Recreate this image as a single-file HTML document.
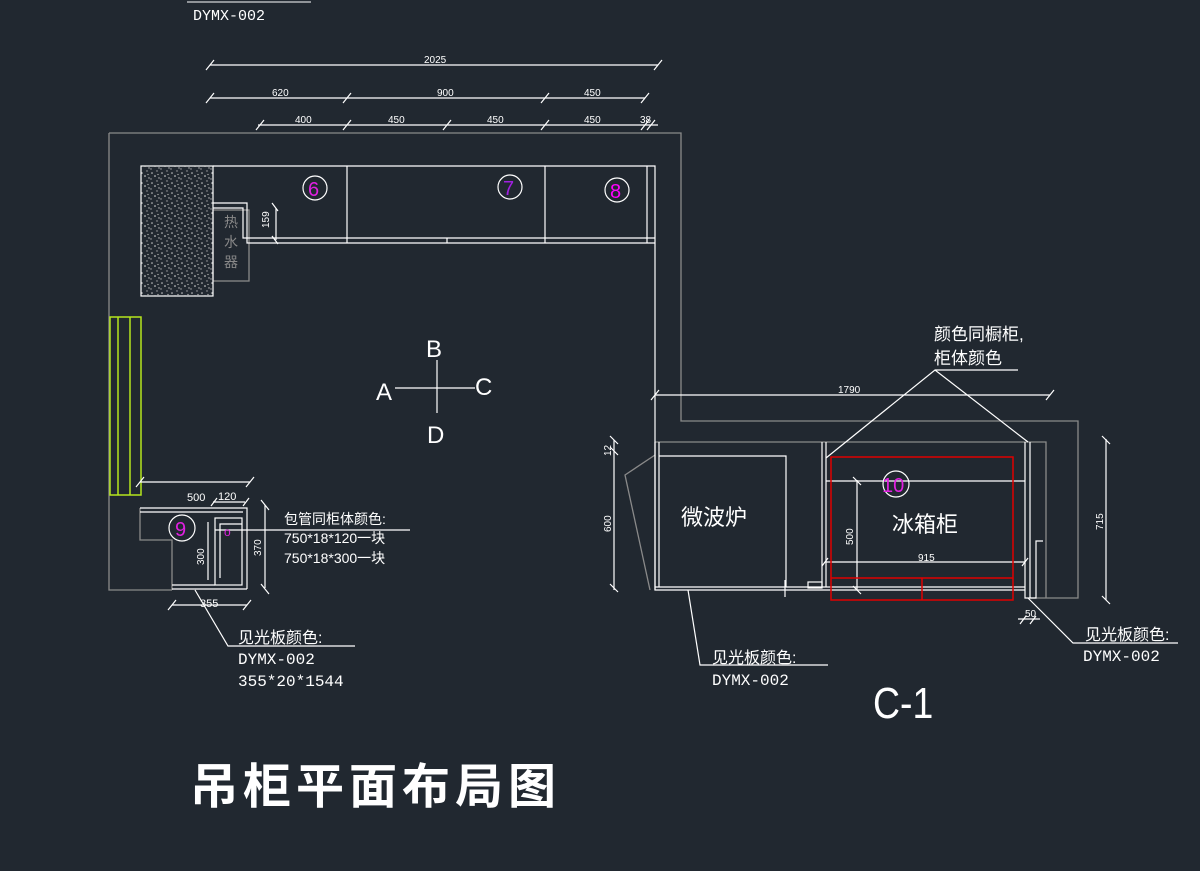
<!DOCTYPE html>
<html><head><meta charset="utf-8"><style>
html,body{margin:0;padding:0;background:#212830;}
svg{display:block}
text{font-family:"Liberation Sans","Noto Sans CJK SC",sans-serif;fill:#fff}
.m{font-family:"Liberation Mono","Noto Sans CJK SC",monospace}
</style></head><body>
<svg width="1200" height="871" viewBox="0 0 1200 871" xmlns="http://www.w3.org/2000/svg">
<defs>
<pattern id="h" width="10" height="10" patternUnits="userSpaceOnUse">
<circle cx="2" cy="3" r="0.8" fill="#ccc"/><circle cx="7" cy="1" r="0.7" fill="#aaa"/><circle cx="5" cy="6" r="0.8" fill="#ddd"/><circle cx="9" cy="8" r="0.7" fill="#bbb"/><circle cx="1" cy="9" r="0.7" fill="#aaa"/><circle cx="8" cy="4.5" r="0.6" fill="#ccc"/>
</pattern>
</defs>
<rect width="1200" height="871" fill="#212830"/>
<line x1="187" y1="2" x2="311" y2="2" stroke="#fff" stroke-width="1"/>
<text class="m" x="193" y="20" font-size="15">DYMX-002</text>

<g stroke="#fff" stroke-width="1.2" fill="none">
<line x1="210" y1="65" x2="658" y2="65"/>
<path d="M206 70l8-10M654 70l8-10"/>
<line x1="210" y1="98" x2="645" y2="98"/>
<path d="M206 103l8-10M343 103l8-10M541 103l8-10M641 103l8-10"/>
<line x1="258" y1="125" x2="658" y2="125"/>
<path d="M256 130l8-10M343 130l8-10M443 130l8-10M541 130l8-10M641 130l8-10M647 130l8-10"/>
</g>
<g font-size="10">
<text x="424" y="63">2025</text>
<text x="272" y="96">620</text><text x="437" y="96">900</text><text x="584" y="96">450</text>
<text x="295" y="123">400</text><text x="388" y="123">450</text><text x="487" y="123">450</text><text x="584" y="123">450</text><text x="640" y="123">38</text>
</g>

<g stroke="#8a8a8a" stroke-width="1.3" fill="none">
<path d="M109 133H681V421H1078V598H1030"/>
<path d="M109 133V590H172"/>
<path d="M140 508V540H172V590"/>
<rect x="213" y="210" width="36" height="71"/>
<path d="M655 442H1046V598"/>
<path d="M655 455L625 475L650 590"/>
</g>
<text x="224" y="227" font-size="14" style="fill:#888">热</text>
<text x="224" y="247" font-size="14" style="fill:#888">水</text>
<text x="224" y="267" font-size="14" style="fill:#888">器</text>

<rect x="141" y="166" width="72" height="130" fill="url(#h)" stroke="#fff" stroke-width="1.2"/>
<g stroke="#b5e61d" stroke-width="1.5" fill="none">
<rect x="110" y="317" width="31" height="178"/>
<line x1="118" y1="317" x2="118" y2="495"/><line x1="130" y1="317" x2="130" y2="495"/>
</g>

<g stroke="#fff" stroke-width="1.2" fill="none">
<path d="M213 166H655V590"/>
<line x1="647" y1="166" x2="647" y2="243"/>
<path d="M213 203H247V243H655"/>
<path d="M213 208H243V238H655"/>
<line x1="347" y1="166" x2="347" y2="243"/>
<line x1="545" y1="166" x2="545" y2="243"/>
<line x1="447" y1="238" x2="447" y2="243"/>
<line x1="276" y1="208" x2="276" y2="240"/>
<path d="M272 203l6 8M272 236l6 8"/>
<circle cx="315" cy="188" r="12"/><circle cx="510" cy="187" r="12"/><circle cx="617" cy="190" r="12"/>
</g>
<text x="269" y="228" font-size="10" transform="rotate(-90 269 228)">159</text>
<g font-size="20">
<text x="308" y="196" style="fill:#e020e0">6</text><text x="503" y="195" style="fill:#a020e0">7</text><text x="610" y="198" style="fill:#f0f">8</text>
</g>

<g stroke="#fff" stroke-width="1.2"><line x1="395" y1="388" x2="475" y2="388"/><line x1="437" y1="360" x2="437" y2="413"/></g>
<g font-size="24"><text x="426" y="357">B</text><text x="376" y="400">A</text><text x="475" y="395">C</text><text x="427" y="443">D</text></g>

<g stroke="#fff" stroke-width="1.2" fill="none">
<line x1="140" y1="482" x2="250" y2="482"/><path d="M136 487l8-10M246 487l8-10"/>
<line x1="213" y1="502" x2="245" y2="502"/><path d="M211 506l6-8M243 506l6-8"/>
<path d="M140 508H247V589"/><path d="M140 512H243"/>
<path d="M172 589H247M172 585H215"/>
<rect x="215" y="518" width="27" height="67"/>
<path d="M220 578V524H242"/>
<line x1="208" y1="522" x2="208" y2="580"/>
<line x1="265" y1="505" x2="265" y2="588"/><path d="M261 500l8 10M261 584l8 10"/>
<line x1="215" y1="530" x2="410" y2="530"/>
<line x1="172" y1="605" x2="247" y2="605"/><path d="M168 610l8-10M243 610l8-10"/>
<path d="M195 590L228 646H355"/>
<circle cx="182" cy="528" r="13"/>
</g>
<text x="175" y="536" font-size="20" style="fill:#e020e0">9</text>
<text x="224" y="536" font-size="12" style="fill:#e020e0">o</text>
<text x="284" y="524" font-size="14">包管同柜体颜色:</text>
<text x="284" y="543" font-size="14">750*18*120一块</text>
<text x="284" y="563" font-size="14">750*18*300一块</text>
<text x="187" y="501" font-size="11">500</text>
<text x="218" y="500" font-size="11">120</text>
<text x="204" y="565" font-size="10" transform="rotate(-90 204 565)">300</text>
<text x="261" y="556" font-size="10" transform="rotate(-90 261 556)">370</text>
<text x="200" y="607" font-size="11">355</text>
<text x="238" y="643" font-size="16">见光板颜色:</text>
<text class="m" x="238" y="664" font-size="16">DYMX-002</text>
<text class="m" x="238" y="686" font-size="16">355*20*1544</text>

<g stroke="#fff" stroke-width="1.2" fill="none">
<line x1="655" y1="395" x2="1050" y2="395"/><path d="M651 400l8-10M1046 400l8-10"/>
<path d="M655 442V590H1025"/><line x1="659" y1="442" x2="659" y2="587"/>
<path d="M659 456H786V587"/>
<path d="M655 587H1025"/>
<path d="M822 442V587M826 442V587"/>
<path d="M826 481H1025"/>
<path d="M1025 442V598H1036V590"/><path d="M1030 442V598"/>
<path d="M1036 590V541H1043"/>
<rect x="808" y="582" width="14" height="6"/>
<path d="M826 562H1025"/><path d="M822 566l6-8M1022 566l6-8"/>
<line x1="857" y1="480" x2="857" y2="590"/><path d="M853 477l8 8M853 586l8 8"/>
<line x1="614" y1="440" x2="614" y2="590"/><path d="M610 436l8 8M610 584l8 8M610 447l8 8"/>
<line x1="1106" y1="439" x2="1106" y2="600"/><path d="M1102 436l8 8M1102 596l8 8"/>
<path d="M826 458L935 370L1028 442"/><path d="M935 370H1018"/>
<path d="M688 590L700 665H828"/>
<path d="M1028 598L1073 643H1178"/>
<line x1="1018" y1="619" x2="1040" y2="619"/><path d="M1020 624l6-8M1030 624l6-8"/>
<line x1="785" y1="580" x2="785" y2="597"/>
<circle cx="896" cy="484" r="13"/>
</g>
<g stroke="#e00000" stroke-width="1.5" fill="none">
<rect x="831" y="457" width="182" height="143"/>
<line x1="831" y1="578" x2="1013" y2="578"/><line x1="922" y1="578" x2="922" y2="600"/>
</g>
<text x="882" y="492" font-size="20" style="fill:#e020e0">10</text>
<text x="681" y="525" font-size="22">微波炉</text>
<text x="892" y="532" font-size="22">冰箱柜</text>
<text x="838" y="393" font-size="10">1790</text>
<text x="918" y="561" font-size="10">915</text>
<text x="853" y="545" font-size="10" transform="rotate(-90 853 545)">500</text>
<text x="611" y="532" font-size="10" transform="rotate(-90 611 532)">600</text>
<text x="611" y="456" font-size="10" transform="rotate(-90 611 456)">12</text>
<text x="1103" y="530" font-size="10" transform="rotate(-90 1103 530)">715</text>
<text x="1025" y="617" font-size="10">50</text>
<text x="934" y="340" font-size="17">颜色同橱柜,</text>
<text x="934" y="364" font-size="17">柜体颜色</text>
<text x="712" y="663" font-size="16">见光板颜色:</text>
<text class="m" x="712" y="685" font-size="16">DYMX-002</text>
<text x="1085" y="640" font-size="16">见光板颜色:</text>
<text class="m" x="1083" y="661" font-size="16">DYMX-002</text>
<text x="873" y="718" font-size="44" transform="translate(873 0) scale(0.85 1) translate(-873 0)">C-1</text>
<text x="190" y="803" font-size="48" letter-spacing="5" font-weight="bold">吊柜平面布局图</text>
</svg>
</body></html>
